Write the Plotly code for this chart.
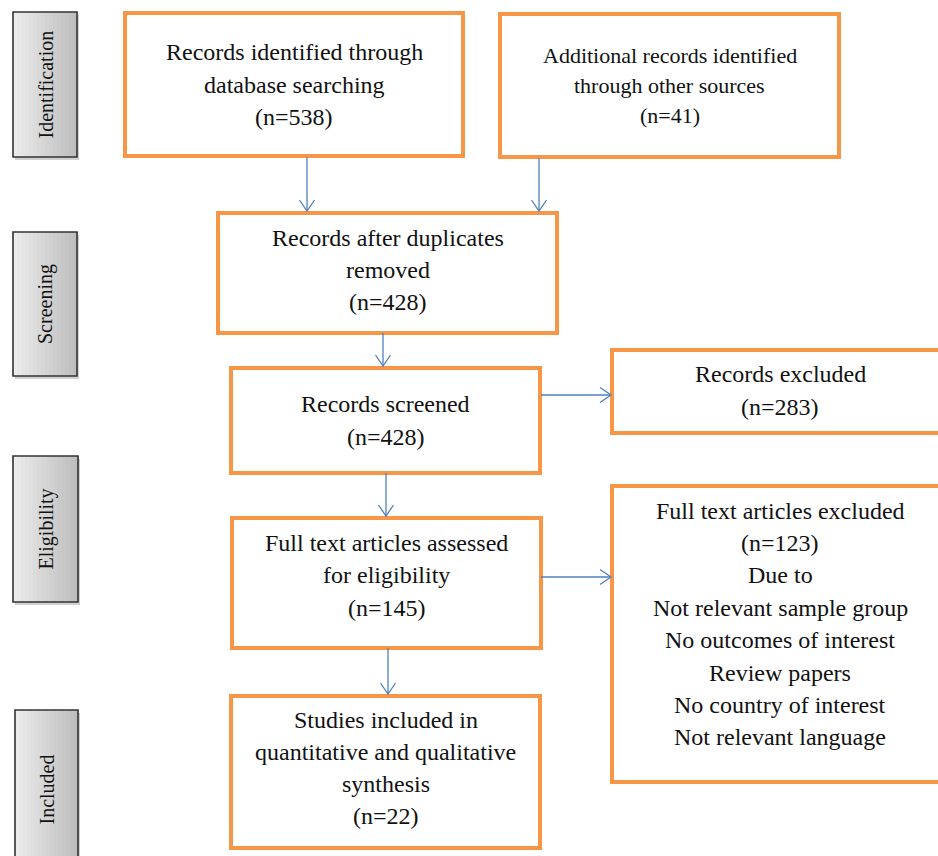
import plotly.graph_objects as go

# ---------------- data ----------------
stages = ["Identification", "Screening", "Eligibility", "Included"]

box_titles = [
    ["Records identified through", "database searching"],
    ["Additional records identified", "through other sources"],
    ["Records after duplicates", "removed"],
    ["Records screened"],
    ["Records excluded"],
    ["Full text articles assessed", "for eligibility"],
    ["Full text articles excluded"],
    ["Studies included in", "quantitative and qualitative", "synthesis"],
]
box_counts = [538, 41, 428, 428, 283, 145, 123, 22]
exclusion_intro = ["Due to"]
exclusion_reasons = [
    "Not relevant sample group",
    "No outcomes of interest",
    "Review papers",
    "No country of interest",
    "Not relevant language",
]

# ---------------- layout (pixel geometry) ----------------
W, H = 938, 856
# x0, x1, y0, y1, text-center-y, line spacing, font size
box_geom = [
    (125, 463, 13, 156, 84.5, 32.5, 24),
    (500, 839, 14, 157, 85, 30, 22),
    (218, 557, 213, 333, 270, 32, 24),
    (231, 540, 368, 473, 420, 33, 24),
    (612, 950, 350, 433, 390, 33, 24),
    (232, 541, 518, 648, 575, 32.5, 24),
    (612, 950, 486, 782, 624, 32.4, 24),
    (231, 540, 696, 848, 768, 32.3, 24),
]
stage_geom = [(13, 77, 12, 157), (13, 77, 232, 376), (13, 78, 456, 602), (15, 78, 710, 880)]
# arrows: (x0, y0, x1, y1)
arrows = [
    (307, 157, 307, 211),
    (539, 158, 539, 211),
    (383, 333, 383, 366),
    (386, 473, 386, 516),
    (388, 648, 388, 694),
    (541, 395, 611, 395),
    (541, 577, 611, 577),
]

ORANGE = "#F79646"
BLUE = "#4F81BD"
FONT = "Liberation Serif, Times New Roman, serif"

shapes = []
annotations = []

# stage side labels (gradient grey boxes)
for (x0, x1, y0, y1), name in zip(stage_geom, stages):
    shapes.append(dict(type="rect", x0=x0 + 2, x1=x1 + 2, y0=y0 + 3, y1=y1 + 3,
                       fillcolor="rgba(0,0,0,0.18)", line=dict(width=0), layer="below"))
    n = 16
    for i in range(n):
        t = i / (n - 1)
        g = int(236 - t * (236 - 190))
        sx0 = x0 + (x1 - x0) * i / n
        sx1 = x0 + (x1 - x0) * (i + 1) / n
        shapes.append(dict(type="rect", x0=sx0, x1=sx1 + 0.5, y0=y0, y1=y1,
                           fillcolor=f"rgb({g},{g},{g})", line=dict(width=0)))
    shapes.append(dict(type="rect", x0=x0, x1=x1, y0=y0, y1=y1,
                       line=dict(color="#333333", width=1.6)))
    cy = (y0 + y1) / 2 if y1 < 860 else (y0 + H) / 2 + 7
    annotations.append(dict(x=(x0 + x1) / 2, y=cy,
                            text=name, textangle=-90, showarrow=False,
                            font=dict(family=FONT, size=20, color="#111111"),
                            xanchor="center", yanchor="middle"))

# main boxes
for idx, (geom, title, count) in enumerate(zip(box_geom, box_titles, box_counts)):
    x0, x1, y0, y1, ty, sp, fs = geom
    shapes.append(dict(type="rect", x0=x0, x1=x1, y0=y0, y1=y1,
                       fillcolor="white", line=dict(color=ORANGE, width=4)))
    lines = list(title) + [f"(n={count})"]
    if idx == 6:
        lines += exclusion_intro + exclusion_reasons
    cx = (x0 + x1) / 2 if x1 <= W else (x0 + x1) / 2 - 1
    n = len(lines)
    for j, ln in enumerate(lines):
        yy = ty + (j - (n - 1) / 2) * sp
        annotations.append(dict(x=cx, y=yy, text=ln, showarrow=False,
                                font=dict(family=FONT, size=fs, color="#111111"),
                                xanchor="center", yanchor="middle"))

# arrows with open V heads
for (ax0, ay0, ax1, ay1) in arrows:
    shapes.append(dict(type="line", x0=ax0, y0=ay0, x1=ax1, y1=ay1,
                       line=dict(color=BLUE, width=1.3)))
    if ax0 == ax1:
        path = f"M {ax1-7.5},{ay1-11} L {ax1},{ay1} L {ax1+7.5},{ay1-11}"
    else:
        path = f"M {ax1-11},{ay1-7.5} L {ax1},{ay1} L {ax1-11},{ay1+7.5}"
    shapes.append(dict(type="path", path=path, line=dict(color=BLUE, width=1.3)))

fig = go.Figure()
fig.update_layout(
    width=W, height=H,
    margin=dict(l=0, r=0, t=0, b=0),
    paper_bgcolor="white", plot_bgcolor="white",
    xaxis=dict(range=[0, W], visible=False, fixedrange=True),
    yaxis=dict(range=[H, 0], visible=False, fixedrange=True),
    shapes=shapes,
    annotations=annotations,
    showlegend=False,
)
fig.write_html("out.html", config={"displayModeBar": False},
               post_script="document.body.style.margin='0';document.body.style.overflow='hidden';")
